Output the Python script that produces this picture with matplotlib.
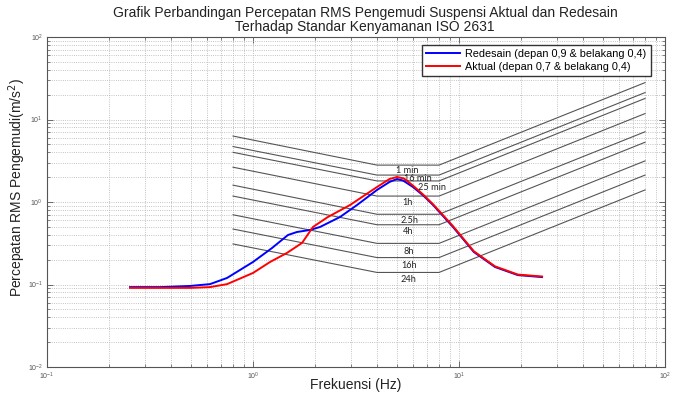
import matplotlib
matplotlib.use("Agg")
import matplotlib.pyplot as plt
from matplotlib.ticker import LogLocator, NullFormatter, LogFormatterMathtext

plt.rcParams['font.family'] = ['Liberation Sans', 'DejaVu Sans']

# ---- Data ----
freq_redesain = [0.253, 0.354, 0.494, 0.618, 0.748, 1.0, 1.237, 1.478, 1.635, 1.89, 2.115,
                 2.645, 3.2, 4.0, 4.6, 5.0, 5.35, 5.98, 6.7, 7.48, 9.35, 11.8, 14.95, 19.3, 25.3]
acc_redesain = [0.093, 0.093, 0.096, 0.101, 0.12, 0.1875, 0.277, 0.398, 0.433, 0.458, 0.498,
                0.658, 0.92, 1.40, 1.75, 1.90, 1.82, 1.52, 1.20, 0.92, 0.498, 0.248, 0.163, 0.130, 0.123]

freq_aktual = [0.253, 0.354, 0.494, 0.618, 0.748, 1.0, 1.21, 1.46, 1.73, 1.955, 2.31,
               2.96, 4.0, 4.6, 5.0, 5.4, 5.98, 6.7, 7.48, 9.35, 11.8, 14.95, 19.3, 25.3]
acc_aktual = [0.091, 0.091, 0.091, 0.093, 0.101, 0.138, 0.1875, 0.241, 0.319, 0.498, 0.658,
              0.92, 1.52, 1.90, 2.01, 1.93, 1.58, 1.23, 0.94, 0.51, 0.253, 0.166, 0.132, 0.125]

iso_freq = [0.8, 4, 8, 80]
iso_1min = [6.3, 2.8, 2.8, 28]
iso_16min = [4.7, 2.12, 2.12, 21.2]
iso_25min = [4.0, 1.8, 1.8, 18]
iso_1h = [2.64, 1.18, 1.18, 11.8]
iso_2_5h = [1.6, 0.71, 0.71, 7.1]
iso_4h = [1.18, 0.53, 0.53, 5.3]
iso_8h = [0.7, 0.315, 0.315, 3.15]
iso_16h = [0.47, 0.212, 0.212, 2.12]
iso_24h = [0.31, 0.14, 0.14, 1.4]
iso_names = ['1 min', '16 min', '25 min', '1h', '2.5h', '4h', '8h', '16h', '24h']
iso_curves = [iso_1min, iso_16min, iso_25min, iso_1h, iso_2_5h, iso_4h, iso_8h, iso_16h, iso_24h]

legend_labels = ['Redesain (depan 0,9 & belakang 0,4)', 'Aktual (depan 0,7 & belakang 0,4)']

# ---- Figure ----
fig = plt.figure(figsize=(6.76, 3.96), dpi=100)
ax = fig.add_axes([47 / 676, 29 / 396, 618 / 676, 330 / 396])
ax.set_xscale('log')
ax.set_yscale('log')
ax.set_xlim(0.1, 100)
ax.set_ylim(0.01, 100)

# ISO 2631 limits (label placement: x in Hz, vertical offset below line in pixels)
label_x = [5.6, 6.35, 7.4, 5.65, 5.75, 5.65, 5.7, 5.7, 5.7]
label_dy = [5, 3, 6.5, 6, 6, 7, 8, 8, 7]
for curve, name, lx, dy in zip(iso_curves, iso_names, label_x, label_dy):
    ax.plot(iso_freq, curve, color='#555555', lw=0.8, zorder=2)
    ax.annotate(name, xy=(lx, curve[1]), xytext=(0, -dy * 0.72), textcoords='offset points',
                ha='center', va='center', fontsize=6.6, family=['Lato', 'DejaVu Sans'],
                color='#222222', zorder=3)

ax.plot(freq_redesain, acc_redesain, color='#0000ff', lw=1.4, label=legend_labels[0], zorder=4)
ax.plot(freq_aktual, acc_aktual, color='#ff0000', lw=1.4, label=legend_labels[1], zorder=5)

# grid & ticks (MATLAB-like)
ax.xaxis.set_major_locator(LogLocator(base=10, numticks=10))
ax.yaxis.set_major_locator(LogLocator(base=10, numticks=10))
ax.xaxis.set_minor_locator(LogLocator(base=10, subs=range(2, 10), numticks=100))
ax.yaxis.set_minor_locator(LogLocator(base=10, subs=range(2, 10), numticks=100))
ax.xaxis.set_minor_formatter(NullFormatter())
ax.yaxis.set_minor_formatter(NullFormatter())
ax.xaxis.set_major_formatter(LogFormatterMathtext())
ax.yaxis.set_major_formatter(LogFormatterMathtext())
ax.grid(True, which='both', linestyle=':', color='#b0b0b0', lw=0.6)
ax.set_axisbelow(True)
ax.tick_params(which='both', direction='in', top=True, right=True, labelsize=5,
               labelcolor='#555555', color='#555555')
ax.tick_params(axis='x', which='major', pad=3)
ax.tick_params(axis='y', which='major', pad=3)
ax.tick_params(which='major', length=4, width=0.6)
ax.tick_params(which='minor', length=2, width=0.5)
for s in ax.spines.values():
    s.set_color('#555555')
    s.set_linewidth(0.8)

leg = ax.legend(loc='upper right', bbox_to_anchor=(0.977, 0.976), borderaxespad=0,
                fontsize=7.8, fancybox=False, framealpha=1, edgecolor='#333333',
                handlelength=3.1, borderpad=0.4, labelspacing=0.25, handletextpad=0.5)
leg.get_frame().set_linewidth(1.0)
leg.set_zorder(10)

fig.text(365 / 676, 1 - 20 / 396,
         'Grafik Perbandingan Percepatan RMS Pengemudi Suspensi Aktual dan Redesain\n'
         'Terhadap Standar Kenyamanan ISO 2631',
         ha='center', va='center', fontsize=10, color='#222222', linespacing=1.0)
fig.text(17 / 676, 1 - 187 / 396, 'Percepatan RMS Pengemudi(m/s$^2$)', rotation=90,
         ha='center', va='center', fontsize=10, color='#222222')
fig.text(356 / 676, 1 - 385 / 396, 'Frekuensi (Hz)', ha='center', va='center',
         fontsize=10, color='#222222')

fig.savefig('out.png', dpi=100)
